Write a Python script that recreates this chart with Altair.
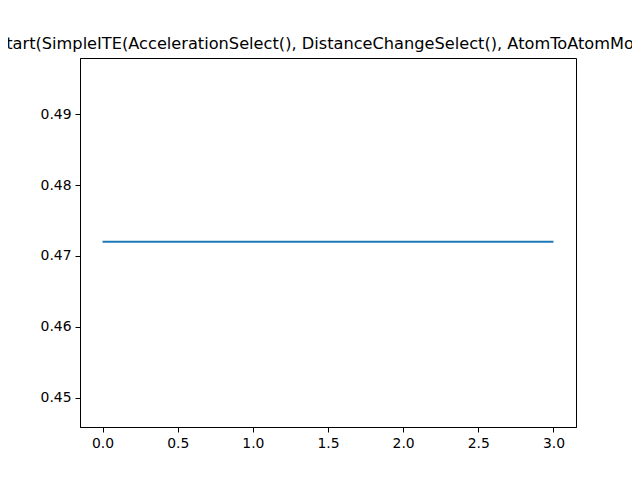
import altair as alt
import pandas as pd

xs = [0, 1, 2, 3]
ys = [0.472, 0.472, 0.472, 0.472]
title_text = "Restart(SimpleITE(AccelerationSelect(), DistanceChangeSelect(), AtomToAtomMove()))"

df = pd.DataFrame({"x": xs, "y": ys})
font = "DejaVu Sans"

chart = alt.Chart(df).mark_line(color="#1f77b4", strokeWidth=2).encode(
    x=alt.X("x:Q", scale=alt.Scale(domain=[-0.15, 3.15], nice=False, zero=False),
            axis=alt.Axis(values=[0, 0.5, 1, 1.5, 2, 2.5, 3], format=".1f", title=None, grid=False,
                          labelFont=font, labelFontSize=13.9, labelColor="black",
                          tickColor="black", domainColor="black", tickSize=5, labelPadding=4)),
    y=alt.Y("y:Q", scale=alt.Scale(domain=[0.4459, 0.4979], nice=False, zero=False),
            axis=alt.Axis(values=[0.45, 0.46, 0.47, 0.48, 0.49], format=".2f", title=None, grid=False,
                          labelFont=font, labelFontSize=13.9, labelColor="black",
                          tickColor="black", domainColor="black", tickSize=5, labelPadding=4)),
).properties(
    width=496, height=369,
    title=alt.TitleParams(title_text, font=font, fontSize=16.2, fontWeight="normal", color="black", offset=6),
    autosize=alt.AutoSizeParams(type="none"),
    padding={"left": 72, "top": 50, "right": 56, "bottom": 45},
).configure_view(stroke="black", strokeWidth=1)

chart.save("out.html", embed_options={"renderer": "svg", "actions": False})
